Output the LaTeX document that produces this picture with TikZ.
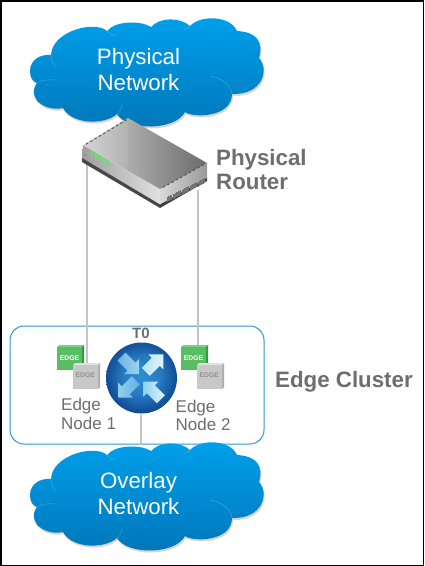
\documentclass[tikz,border=0pt]{standalone}
\usepackage{fontspec}
\usetikzlibrary{calc}
\setmainfont{Liberation Sans}
\definecolor{txtgray}{HTML}{6E6E6E}
\definecolor{linegray}{HTML}{C4C4C4}
\definecolor{clustblue}{HTML}{2A9AD0}
\definecolor{cloudtop}{RGB}{0,160,236}
\definecolor{cloudbot}{RGB}{0,118,184}
\definecolor{edgegreen}{RGB}{88,190,100}
\definecolor{edgegreentop}{RGB}{120,210,130}
\definecolor{edgegreenside}{RGB}{55,150,70}
\definecolor{edgegray}{RGB}{200,200,200}
\definecolor{edgegraytop}{RGB}{225,225,225}
\definecolor{edgegrayside}{RGB}{175,175,175}
\definecolor{edgegraytext}{RGB}{145,145,145}
\definecolor{arrA}{HTML}{6FB2E2}
\definecolor{arrB}{HTML}{9AD4F0}
\definecolor{arrC}{HTML}{B5E4F6}
\definecolor{arrD}{HTML}{DDF4FB}
\definecolor{arrE}{HTML}{5FAEE0}
\definecolor{arrF}{HTML}{8FD0EE}
\definecolor{ballA}{RGB}{47,141,208}
\definecolor{ballB}{RGB}{38,124,194}
\definecolor{ballC}{RGB}{24,92,164}
\definecolor{ballD}{RGB}{14,74,144}
\pgfdeclareradialshading{ballsh}{\pgfpoint{0bp}{2bp}}{%
  color(0bp)=(ballA);
  color(13bp)=(ballB);
  color(21bp)=(ballC);
  color(26bp)=(ballD);
  color(50bp)=(ballD)}
\newcommand\fsz[1]{\fontsize{#1}{#1}\selectfont}
\newcommand\cloudoutline{
  (30,71) .. controls (30,60) and (40,54) .. (51,55) .. controls (52,31) and (95,20) .. (107,31)
  .. controls (115,21) and (140,20) .. (151,27) .. controls (160,17) and (180,17) .. (190,26)
  .. controls (200,15) and (230,15) .. (237,31) .. controls (255,32) and (264,40) .. (259,58)
  .. controls (269,68) and (264,95) .. (232,94) .. controls (232,118) and (192,118) .. (185,112)
  .. controls (175,131) and (127,131) .. (117,114) .. controls (105,125) and (72,125) .. (63,108)
  .. controls (45,112) and (26,98) .. (37,83) .. controls (32,81) and (30,77) .. (30,71) -- cycle}
\tikzset{
  conn/.style={draw=linegray,line width=1.8pt},
  cloudtext/.style={text=white,align=center,inner sep=0pt,font=\fsz{22.3}},
  bigbold/.style={text=txtgray,font=\fsz{22.3}\bfseries,align=left,inner sep=0pt,anchor=west},
  edgelbl/.style={text=txtgray,font=\fsz{17},align=left,inner sep=0pt,anchor=west},
  edgeword/.style={font=\fsz{6.8}\bfseries,inner sep=0pt},
  cloudseam/.style={draw=white,opacity=.18,line width=.7pt},
}
\newcommand\mycloud[1]{%
  \begin{scope}[shift={(0,#1)}]
    \fill[black!40,opacity=.4,shift={(1,2)}] \cloudoutline;
    \shade[top color=cloudtop,bottom color=cloudbot] \cloudoutline;
    \draw[cloudseam] (51,55) .. controls (51,60) and (53,64) .. (56,67);
    \draw[cloudseam] (37,83) .. controls (42,80) and (50,79) .. (55,80);
    \draw[cloudseam] (107,31) .. controls (110,34) and (112,35) .. (115,36);
    \draw[cloudseam] (190,26) .. controls (188,28) and (186,29) .. (184,30);
    \draw[cloudseam] (232,94) .. controls (232,86) and (222,78) .. (210,76);
    \draw[cloudseam] (117,114) .. controls (120,112) and (122,108) .. (122,104);
  \end{scope}}
\newcommand\blockarrow[6]{%
  \shade[shift={(#1,#2)},xscale=#3,yscale=#4,left color=#5,right color=#6]
   (0,0) -- (0,-15) -- (-3.5,-11.5) -- (-13.5,-21.5) -- (-21.5,-13.5) -- (-11.5,-3.5) -- (-15,0) -- cycle;}
\newcommand\edgeicon[6]{%
  \fill[#4] (#1,#2) -- (#1+2,#2-2) -- (#1+27,#2-2) -- (#1+25,#2) -- cycle;
  \fill[#5] (#1+25,#2) -- (#1+27,#2-2) -- (#1+27,#2+#6-2) -- (#1+25,#2+#6) -- cycle;
  \fill[#3] (#1,#2) rectangle (#1+25,#2+#6);
}
\begin{document}
\begin{tikzpicture}[x=1pt,y=-1pt]
\useasboundingbox (0,0) rectangle (424,566);
\fill[white] (0,0) rectangle (424,566);
% cluster box
\draw[clustblue,line width=1pt,rounded corners=14pt,fill=white] (10,326) rectangle (264,444);
% connector anchors
\coordinate (rl) at (87,160);
\coordinate (rr) at (198,190);
\coordinate (e1) at (87,365);
\coordinate (e2) at (198,346);
\coordinate (tb) at (141,405);
\coordinate (oc) at (141,445);
\draw[conn] (rl) -- (e1);
\draw[conn] (rr) -- (e2);
\draw[conn] (tb) -- (oc);
% clouds
\mycloud{0}
\mycloud{424}
\node[cloudtext] (pnet) at (138.5,70) {Physical\\[3.7pt]Network};
\node[cloudtext] (onet) at (138.5,494) {Overlay\\[3.7pt]Network};
% router
\shade[left color=black!38,right color=black!12] (83,145) -- (82,159) -- (160,205) -- (160,189) -- cycle;
\fill[black!72] (82,158) -- (82,162) -- (160,208) -- (160,204.5) -- cycle;
\shade[left color=black!15,right color=black!40] (160,189) -- (207,163) -- (207,178) -- (160,204.5) -- cycle;
\fill[black!75] (160,204.5) -- (207,178) -- (207,181) -- (160,208) -- cycle;
\shade[left color=black!18,right color=black!58] (83,145) -- (128,118) -- (207,163) -- (160,189) -- cycle;
\fill[white,opacity=.08] (83,145) -- (128,118) -- (128,162) -- (126,172) -- cycle;
\foreach \t in {0.05,0.15,...,1.0} \draw[black!70,line width=.9pt,line cap=round] ($(84,145.5)!\t!(127,119.5)$) -- ++(1.7,-1);
\foreach \t in {0.05,0.15,...,1.0} \draw[black!70,line width=.9pt,line cap=round] ($(161,188.5)!\t!(204,164.5)$) -- ++(1.7,-1);
\foreach \t in {0,0.25,...,1.0} \fill[green!75!white] ($(92,153)!\t!(108,163)$) ellipse (1.2pt and 2.2pt);
\fill[black!55] (85,155) circle (.8pt);
\foreach \t in {0,0.03,...,1.0} \draw[black!55,line width=.4pt] ($(167,197)!\t!(205,178)$) -- ++(0,5);
\node[bigbold] (prouter) at (216,170) {Physical\\[1.7pt]Router};
% T0 router
\node[text=txtgray,font=\fsz{15}\bfseries,inner sep=0pt] (t0) at (141,333) {T0};
\fill[white] (141.5,378) circle (36.5);
\path[shading=ballsh] (141.5,378) circle (35.5);
\blockarrow{139}{374}{1}{1}{arrA}{arrB}
\blockarrow{163.3}{354.3}{1}{-1}{arrC}{arrD}
\blockarrow{118.3}{397.7}{-1}{1}{arrF}{arrE}
\blockarrow{143.3}{381.7}{-1}{-1}{arrF}{arrD}
% edge icons
\edgeicon{57}{347}{edgegreen}{edgegreentop}{edgegreenside}{23}
\edgeicon{73}{365}{edgegray}{edgegraytop}{edgegrayside}{24}
\edgeicon{181}{347}{edgegreen}{edgegreentop}{edgegreenside}{23}
\edgeicon{197}{365}{edgegray}{edgegraytop}{edgegrayside}{24}
\node[edgeword,text=white] (e1g) at (69.5,358.3) {EDGE};
\node[edgeword,text=edgegraytext] (e1s) at (85.3,375.5) {EDGE};
\node[edgeword,text=white] (e2g) at (193.5,358.3) {EDGE};
\node[edgeword,text=edgegraytext] (e2s) at (209.3,375.5) {EDGE};
\node[edgelbl] (n1) at (61,414) {Edge\\[2pt]Node 1};
\node[edgelbl] (n2) at (175.5,415.5) {Edge\\[1.5pt]Node 2};
\node[bigbold] (ecl) at (275,381.5) {Edge Cluster};
% frame
\draw[black,line width=1.5pt] (.75,.75) rectangle (423.25,565.25);
\end{tikzpicture}
\end{document}
